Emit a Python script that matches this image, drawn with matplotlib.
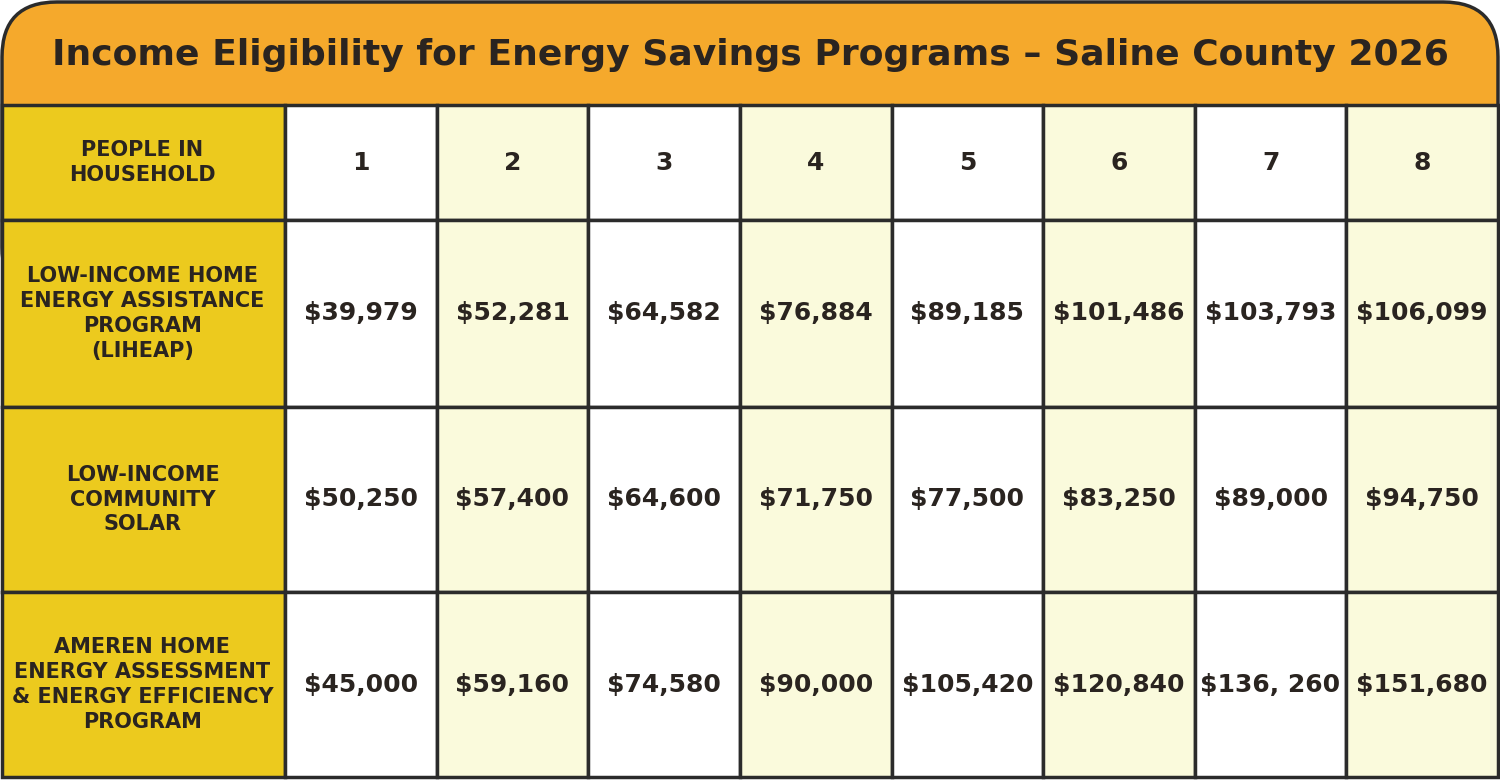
import matplotlib.pyplot as plt
from matplotlib.patches import Rectangle, FancyBboxPatch

title = "Income Eligibility for Energy Savings Programs \u2013 Saline County 2026"
household = ["1", "2", "3", "4", "5", "6", "7", "8"]
programs = ["LOW-INCOME HOME\nENERGY ASSISTANCE\nPROGRAM\n(LIHEAP)",
            "LOW-INCOME\nCOMMUNITY\nSOLAR",
            "AMEREN HOME\nENERGY ASSESSMENT\n& ENERGY EFFICIENCY\nPROGRAM"]
liheap = ["$39,979", "$52,281", "$64,582", "$76,884", "$89,185", "$101,486", "$103,793", "$106,099"]
solar = ["$50,250", "$57,400", "$64,600", "$71,750", "$77,500", "$83,250", "$89,000", "$94,750"]
ameren = ["$45,000", "$59,160", "$74,580", "$90,000", "$105,420", "$120,840", "$136, 260", "$151,680"]
rows = [liheap, solar, ameren]

FONT = ['DejaVu Sans Condensed', 'DejaVu Sans']
EDGE = '#2b2b2b'
W, H = 1500, 780
fig = plt.figure(figsize=(15, 7.8), dpi=100)
ax = fig.add_axes([0, 0, 1, 1])
ax.set_xlim(0, W)
ax.set_ylim(H, 0)
ax.axis('off')

# title band with rounded top
ax.add_patch(FancyBboxPatch((2, 2), W - 4, 300, boxstyle="round,pad=0,rounding_size=55",
                            fc='#f5a92c', ec=EDGE, lw=2.5, zorder=1))
ax.text(W / 2, 55, title, ha='center', va='center', fontsize=26, fontweight='bold',
        family=FONT, color='#2a2420', zorder=5)

x0, cw = 285, (W - 2 - 285) / 8
ys = [105, 220, 407, 592, 777]
labels = ["PEOPLE IN\nHOUSEHOLD"] + programs
for r in range(4):
    y1, y2 = ys[r], ys[r + 1]
    ax.add_patch(Rectangle((2, y1), x0 - 2, y2 - y1, fc='#ecca1e', ec=EDGE, lw=2.5, zorder=2))
    ax.text(x0 / 2, (y1 + y2) / 2, labels[r], ha='center', va='center', fontsize=15,
            fontweight='bold', family=FONT, color='#2a2420', linespacing=1.3, zorder=5)
    vals = household if r == 0 else rows[r - 1]
    for c, v in enumerate(vals):
        xc = x0 + c * cw
        fc = 'white' if c % 2 == 0 else '#fafadc'
        ax.add_patch(Rectangle((xc, y1), cw, y2 - y1, fc=fc, ec=EDGE, lw=2.5, zorder=2))
        ax.text(xc + cw / 2, (y1 + y2) / 2, v, ha='center', va='center', fontsize=18,
                fontweight='bold', family=FONT, color='#2a2420', zorder=5)

fig.savefig('out.png', dpi=100)
